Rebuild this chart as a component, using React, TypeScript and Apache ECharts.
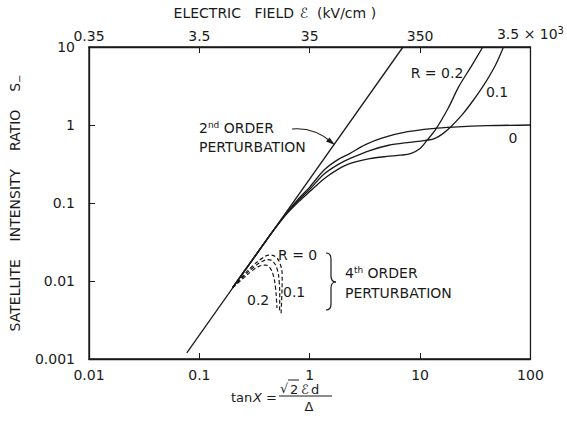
import React, { useEffect, useRef } from "react";
import * as echarts from "echarts";

// Axis tick labels (tan X decades, field = 35 kV/cm × tan X, ratio decades)
const tanLabels = ["0.01", "0.1", "1", "10", "100"];
const fieldLabels = ["0.35", "3.5", "35", "350", "3.5 × 10{sup|3}"];
const ratioLabels = ["0.001", "0.01", "0.1", "1", "10"];

// 2nd order perturbation: straight line S ∝ tan² X
const secondOrder: [number, number][] = [
  [0.077, 0.0012],
  [7.0, 10],
];

// Exact solutions for R = 0, 0.1, 0.2
const exactR0: [number, number][] = [
  [0.2, 0.0082], [0.3, 0.0184], [0.45, 0.041], [0.6, 0.071], [0.8, 0.115],
  [1.0, 0.16], [1.35, 0.265], [1.8, 0.36], [2.3, 0.43], [3.2, 0.56],
  [4.5, 0.68], [7.7, 0.82], [13, 0.9], [20, 0.94], [40, 0.98], [100, 1.0],
];
const exactR01: [number, number][] = [
  [0.2, 0.0082], [0.3, 0.0184], [0.45, 0.041], [0.6, 0.07], [0.8, 0.11],
  [1.0, 0.15], [1.35, 0.235], [1.8, 0.31], [2.3, 0.37], [3.5, 0.47],
  [5.2, 0.55], [8, 0.6], [10.8, 0.63], [13.5, 0.67], [16, 0.77],
  [19, 0.95], [24, 1.35], [29, 1.9], [38, 3.3], [48, 5.8], [57, 10],
];
const exactR02: [number, number][] = [
  [0.2, 0.0082], [0.3, 0.0184], [0.45, 0.041], [0.6, 0.069], [0.8, 0.105],
  [1.0, 0.14], [1.35, 0.205], [1.8, 0.27], [2.3, 0.32], [3.5, 0.37],
  [5, 0.395], [6.7, 0.41], [8.2, 0.43], [10, 0.5], [11.5, 0.63],
  [14, 0.9], [18, 1.65], [22.4, 3.1], [29, 5.6], [37, 10],
];

// 4th order perturbation (dashed)
const fourthR0: [number, number][] = [
  [0.2, 0.0082], [0.25, 0.0118], [0.31, 0.016], [0.37, 0.0195], [0.43, 0.0215],
  [0.49, 0.0205], [0.54, 0.0165], [0.563, 0.0115], [0.56, 0.0072], [0.55, 0.0038],
];
const fourthR01: [number, number][] = [
  [0.2, 0.0082], [0.25, 0.0113], [0.31, 0.015], [0.37, 0.0178], [0.42, 0.0188],
  [0.47, 0.0175], [0.51, 0.0138], [0.53, 0.0095], [0.535, 0.0062], [0.533, 0.0042],
];
const fourthR02: [number, number][] = [
  [0.2, 0.0082], [0.25, 0.0108], [0.3, 0.0135], [0.35, 0.0155], [0.4, 0.016],
  [0.44, 0.0145], [0.47, 0.0115], [0.49, 0.0082], [0.5, 0.0058], [0.505, 0.0045],
];

const INK = "#1a1a1a";
const FONT = "DejaVu Sans";

const decadeIndex = (v: number, first: number) => Math.round(Math.log10(v)) - first;

function txt(x: number, y: number, text: string, size = 14, align = "left", extra: any = {}) {
  return {
    type: "text",
    x,
    y,
    silent: true,
    style: {
      text,
      fill: INK,
      fontSize: size,
      fontFamily: FONT,
      align,
      textAlign: align,
      verticalAlign: "middle",
      textVerticalAlign: "middle",
      ...extra,
    },
  };
}

export default function App() {
  const ref = useRef<HTMLDivElement>(null);

  useEffect(() => {
    if (!ref.current) return;
    const chart = echarts.init(ref.current, undefined, { renderer: "svg" });

    const solid = (name: string, data: [number, number][]) => ({
      name,
      type: "line",
      data,
      showSymbol: false,
      smooth: 0.3,
      xAxisIndex: 0,
      yAxisIndex: 0,
      lineStyle: { color: INK, width: 1.3 },
      silent: true,
    });
    const dashed = (name: string, data: [number, number][]) => ({
      name,
      type: "line",
      data,
      showSymbol: false,
      smooth: 0.4,
      xAxisIndex: 0,
      yAxisIndex: 0,
      lineStyle: { color: INK, width: 1.2, type: [4, 2.5] },
      silent: true,
    });

    const axisLine = { show: true, lineStyle: { color: INK, width: 1.3 } };
    const tick = { show: true, inside: true, length: 6, lineStyle: { color: INK, width: 1 } };
    const labelStyle = { color: INK, fontSize: 14, fontFamily: FONT };

    const brace = { stroke: INK, lineWidth: 1.2, fill: null };
    const supRich = {
      sup: { fontSize: 9, fontFamily: FONT, fill: INK, verticalAlign: "top", padding: [0, 0, 7, 0] },
    };

    chart.setOption({
      animation: false,
      backgroundColor: "#ffffff",
      grid: {
        left: 78,
        right: 29,
        top: 47,
        bottom: 80,
        show: true,
        borderColor: INK,
        borderWidth: 1.3,
        backgroundColor: "transparent",
      },
      xAxis: [
        {
          type: "log",
          logBase: 10,
          min: 0.01,
          max: 100,
          position: "bottom",
          axisLine,
          axisTick: tick,
          splitLine: { show: false },
          minorTick: { show: false },
          axisLabel: {
            ...labelStyle,
            margin: 9,
            showMinLabel: true,
            showMaxLabel: true,
            formatter: (v: number) => tanLabels[decadeIndex(v, -2)] ?? "",
          },
        },
        {
          type: "log",
          logBase: 10,
          min: 0.01,
          max: 100,
          position: "top",
          axisLine,
          axisTick: tick,
          splitLine: { show: false },
          axisLabel: {
            ...labelStyle,
            margin: 4,
            showMinLabel: true,
            showMaxLabel: true,
            formatter: (v: number) => fieldLabels[decadeIndex(v, -2)] ?? "",
            rich: {
              sup: { fontSize: 10, fontFamily: FONT, color: INK, verticalAlign: "top", padding: [0, 0, 8, 0] },
            },
          },
        },
      ],
      yAxis: {
        type: "log",
        logBase: 10,
        min: 0.001,
        max: 10,
        axisLine,
        axisTick: tick,
        splitLine: { show: false },
        minorTick: { show: false },
        name: "SATELLITE    INTENSITY    RATIO    S{sub|−}",
        nameLocation: "middle",
        nameGap: 53,
        nameTextStyle: {
          color: INK,
          fontSize: 14,
          fontFamily: FONT,
          rich: {
            sub: { fontSize: 10, fontFamily: FONT, color: INK, verticalAlign: "bottom", padding: [8, 0, 0, 0] },
          },
        },
        axisLabel: {
          ...labelStyle,
          margin: 14,
          showMinLabel: true,
          showMaxLabel: true,
          formatter: (v: number) => ratioLabels[decadeIndex(v, -3)] ?? "",
        },
      },
      series: [
        solid("2nd order", secondOrder),
        solid("R = 0", exactR0),
        solid("R = 0.1", exactR01),
        solid("R = 0.2", exactR02),
        dashed("4th R = 0", fourthR0),
        dashed("4th R = 0.1", fourthR01),
        dashed("4th R = 0.2", fourthR02),
      ],
      graphic: [
        // top title
        txt(294, 13, "ELECTRIC   FIELD", 14, "right"),
        txt(304, 13, "ℰ", 14, "center", { fontStyle: "italic" }),
        txt(317, 13, "(kV/cm )", 14, "left"),
        // curve labels
        txt(437, 73, "R = 0.2", 14, "center"),
        txt(497, 92, "0.1", 14, "center"),
        txt(513, 138, "0", 14, "center"),
        // 2nd order label + arrow
        txt(199, 128, "2{sup|nd} ORDER", 14, "left", { rich: supRich }),
        txt(199, 147, "PERTURBATION", 14, "left"),
        {
          type: "bezierCurve",
          silent: true,
          shape: { x1: 292, y1: 129, cpx1: 314, cpy1: 127, x2: 332, y2: 142.5 },
          style: { stroke: INK, lineWidth: 1.1, fill: null },
        },
        {
          type: "polygon",
          silent: true,
          shape: { points: [[335, 145], [326, 141.5], [329.5, 137.5]] },
          style: { fill: INK },
        },
        // 4th order labels
        txt(278, 255, "R = 0", 14, "left"),
        txt(283, 292, "0.1", 14, "left"),
        txt(247, 300, "0.2", 14, "left"),
        {
          type: "group",
          silent: true,
          children: [
            { type: "bezierCurve", shape: { x1: 326, y1: 253, cpx1: 331, cpy1: 253, x2: 331, y2: 259 }, style: brace },
            { type: "line", shape: { x1: 331, y1: 259, x2: 331, y2: 276 }, style: brace },
            { type: "bezierCurve", shape: { x1: 331, y1: 276, cpx1: 331, cpy1: 282, x2: 336, y2: 282 }, style: brace },
            { type: "bezierCurve", shape: { x1: 336, y1: 282, cpx1: 331, cpy1: 282, x2: 331, y2: 288 }, style: brace },
            { type: "line", shape: { x1: 331, y1: 288, x2: 331, y2: 304 }, style: brace },
            { type: "bezierCurve", shape: { x1: 331, y1: 304, cpx1: 331, cpy1: 310, x2: 326, y2: 310 }, style: brace },
          ],
        },
        txt(345, 273, "4{sup|th} ORDER", 14, "left", { rich: supRich }),
        txt(345, 293, "PERTURBATION", 14, "left"),
        // x axis name: tan X = √2 ℰ d / Δ
        txt(231, 397, "tan", 13, "left"),
        txt(253, 397, "X", 13, "left", { fontStyle: "italic" }),
        txt(266, 397, "=", 13, "left"),
        txt(280, 388, "√", 13, "left"),
        {
          type: "line",
          silent: true,
          shape: { x1: 288, y1: 380, x2: 299, y2: 380 },
          style: { stroke: INK, lineWidth: 1 },
        },
        txt(290, 389, "2", 13, "left"),
        txt(301, 389, "ℰ", 13, "left", { fontStyle: "italic" }),
        txt(311, 389, "d", 13, "left"),
        {
          type: "line",
          silent: true,
          shape: { x1: 279, y1: 396, x2: 332, y2: 396 },
          style: { stroke: INK, lineWidth: 1 },
        },
        txt(309, 406, "Δ", 13, "center"),
      ],
    });

    return () => chart.dispose();
  }, []);

  return (
    <div
      ref={ref}
      style={{ position: "fixed", left: 0, top: 0, width: 567, height: 439, background: "#fff" }}
    />
  );
}
